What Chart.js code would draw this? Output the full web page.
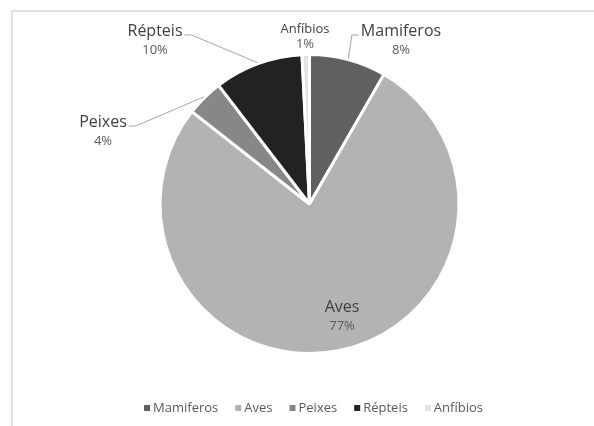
<!DOCTYPE html>
<html><head><meta charset="utf-8">
<script src="https://cdn.jsdelivr.net/npm/chart.js@4"></script>
<style>html,body{margin:0;padding:0;background:#fff}canvas{display:block}</style>
</head><body>
<canvas id="c" width="594" height="426"></canvas>
<script>
const categories = ['Mamiferos', 'Aves', 'Peixes', 'Répteis', 'Anfíbios'];
const shares = [8.3, 77.3, 4.0, 9.6, 0.8];
const sliceColors = ['#606060', '#b3b3b3', '#878787', '#222222', '#e3e3e3'];

// label layout (offset of name baseline centre from pie centre), not data
const labelOffsets = [[91.5, -168], [32.5, 108], [-206.5, -77], [-154.5, -168], [-4.5, -171]];
const labelNameSize = [16, 16, 16, 16, 13];
const labelLeader = [true, false, true, true, false];

const FONT = '"Open Sans", "Noto Sans", sans-serif';

const framePlugin = {
  id: 'frame',
  beforeDraw(chart) {
    const ctx = chart.ctx;
    ctx.save();
    ctx.fillStyle = '#ffffff';
    ctx.fillRect(0, 0, chart.width, chart.height);
    ctx.strokeStyle = '#d9d9d9';
    ctx.lineWidth = 1.5;
    ctx.beginPath();
    ctx.moveTo(11.75, chart.height + 5);
    ctx.lineTo(11.75, 11);
    ctx.lineTo(chart.width + 5, 11);
    ctx.stroke();
    ctx.restore();
  }
};

const labelsPlugin = {
  id: 'labels',
  afterDatasetsDraw(chart) {
    const ctx = chart.ctx;
    const meta = chart.getDatasetMeta(0);
    const total = shares.reduce((a, b) => a + b, 0);
    ctx.save();
    meta.data.forEach((arc, i) => {
      const p = arc.getProps(['x', 'y', 'startAngle', 'endAngle', 'outerRadius'], true);
      const [dx, dy] = labelOffsets[i];
      const lx = p.x + dx, ly = p.y + dy;
      ctx.textAlign = 'center';
      ctx.textBaseline = 'alphabetic';
      ctx.font = labelNameSize[i] + 'px ' + FONT;
      ctx.fillStyle = '#404040';
      ctx.fillText(categories[i], lx, ly);
      const w = ctx.measureText(categories[i]).width;
      ctx.font = '13px ' + FONT;
      ctx.fillStyle = '#595959';
      ctx.fillText(Math.round(shares[i] / total * 100) + '%', lx, ly + (labelNameSize[i] > 14 ? 18 : 15));
      if (labelLeader[i]) {
        const mid = (p.startAngle + p.endAngle) / 2;
        const ex = p.x + Math.cos(mid) * (p.outerRadius + 1);
        const ey = p.y + Math.sin(mid) * (p.outerRadius + 1);
        const side = ex > lx ? 1 : -1;
        const sx = lx + side * (w / 2 + 2), sy = ly - 1;
        const bx = sx + side * 7;
        ctx.beginPath();
        ctx.moveTo(sx, sy);
        ctx.lineTo(bx, sy);
        ctx.lineTo(ex, ey);
        ctx.strokeStyle = '#a6a6a6';
        ctx.lineWidth = 1;
        ctx.stroke();
      }
    });

    // legend
    ctx.font = '13px ' + FONT;
    ctx.textAlign = 'left';
    ctx.textBaseline = 'middle';
    const box = 6, gap1 = 3, gap2 = 17;
    const items = chart.data.labels.map((c, i) => ({ c, col: chart.data.datasets[0].backgroundColor[i], w: ctx.measureText(c).width }));
    const totalW = items.reduce((s, it) => s + box + gap1 + it.w, 0) + gap2 * (items.length - 1);
    let x = 313.5 - totalW / 2;
    const y = 408;
    items.forEach(it => {
      ctx.fillStyle = it.col;
      ctx.fillRect(x, y - box / 2, box, box);
      x += box + gap1;
      ctx.fillStyle = '#595959';
      ctx.fillText(it.c, x, y);
      x += it.w + gap2;
    });
    ctx.restore();
  }
};

new Chart(document.getElementById('c'), {
  type: 'pie',
  data: {
    labels: categories,
    datasets: [{
      data: shares,
      backgroundColor: sliceColors,
      borderColor: '#ffffff',
      borderWidth: 3
    }]
  },
  options: {
    responsive: false,
    animation: false,
    layout: { padding: { top: 53, bottom: 71, left: 158.5, right: 133.5 } },
    plugins: { legend: { display: false }, tooltip: { enabled: false } }
  },
  plugins: [framePlugin, labelsPlugin]
});
</script>
</body></html>
